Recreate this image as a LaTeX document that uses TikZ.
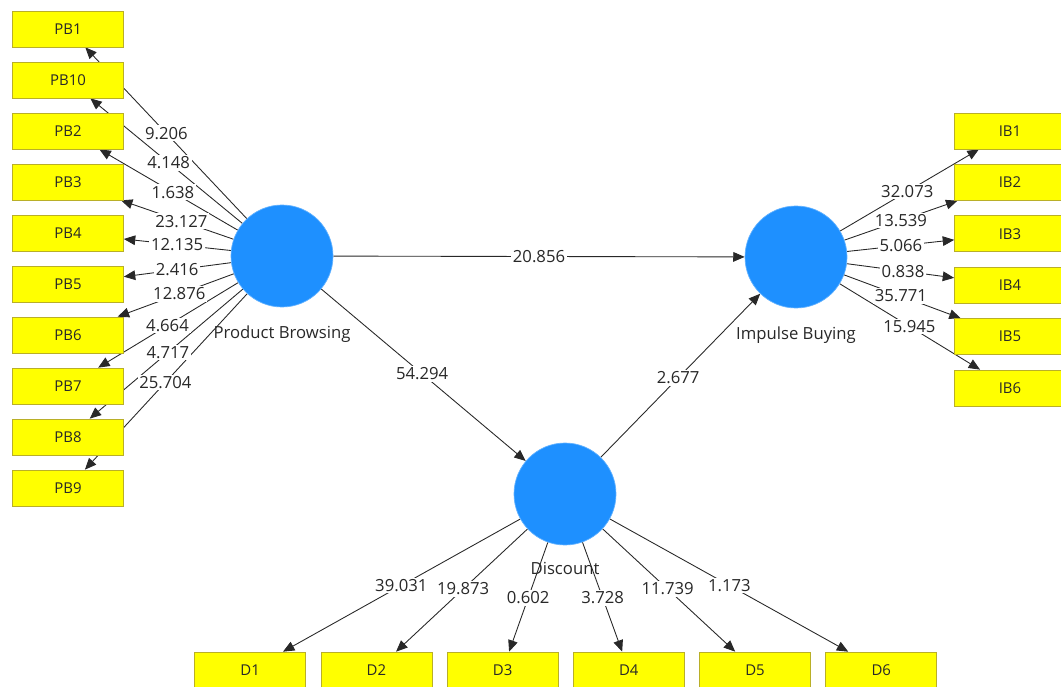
\documentclass[tikz,border=0pt]{standalone}
\usepackage{fontspec}
\setmainfont{Open Sans}
\usepackage{tikz}
\usetikzlibrary{arrows.meta,positioning,backgrounds}
\usepackage{xcolor}
\definecolor{plsyellow}{RGB}{255,255,0}
\definecolor{plsborder}{RGB}{185,175,40}
\definecolor{plsblue}{RGB}{30,144,255}
\definecolor{plsline}{RGB}{40,40,40}
\newcommand{\plsfont}{\fontsize{8.5}{10}\selectfont}
\newcommand{\coeffont}{\fontsize{9.5}{11}\selectfont}

\begin{document}
\begin{tikzpicture}[
    x=0.02cm, y=-0.02cm,
    indicator/.style={rectangle, draw=plsborder, fill=plsyellow,
        minimum width=2.22cm, minimum height=0.72cm, inner sep=0pt,
        font=\plsfont, text=plsline},
    latent/.style={circle, fill=plsblue, draw=plsblue!70!white,
        minimum size=2.04cm, inner sep=0pt},
    lvname/.style={font=\coeffont, inner sep=0pt, text=plsline},
    coef/.style={fill=white, inner sep=1pt, font=\coeffont, text=plsline},
    link/.style={draw=plsline, line width=0.5pt,
        -{Triangle[length=6.5pt,width=5.5pt]}}
]
\useasboundingbox (0,0) rectangle (1061,686);

% latent variables
\node[latent] (pb) at (282,256) {};
\node[latent] (ib) at (796,257) {};
\node[latent] (dc) at (565,494) {};
\node[lvname, below=0.36cm of pb] (pbname) {Product Browsing};
\node[lvname, below=0.36cm of ib] (ibname) {Impulse Buying};
\node[lvname, below=0.34cm of dc] (dcname) {Discount};

% indicators
\foreach \n [count=\k from 0] in {1,10,2,3,4,5,6,7,8,9}
    \node[indicator] (pb\n) at (68, {29+51*\k}) {PB\n};
\foreach \n in {1,...,6}
    \node[indicator] (ib\n) at (1010, {79.6+51.4*\n}) {IB\n};
\foreach \n in {1,...,6}
    \node[indicator] (d\n) at ({124+126.2*\n}, 670) {D\n};

\begin{scope}[on background layer]
\foreach \n in {1,10,2,3,4,5,6,7,8,9}
    \draw[link] (pb) -- (pb\n);
\foreach \n in {1,...,6}
    \draw[link] (ib) -- (ib\n);
\foreach \n in {1,...,6}
    \draw[link] (dc) -- (d\n);
\draw[link] (pb) -- (ib);
\draw[link] (pb) -- (dc);
\draw[link] (dc) -- (ib);
\end{scope}

% path coefficients
\foreach \n/\v/\t in {1/9.206/.54, 10/4.148/.53, 2/1.638/.51, 3/23.127/.47,
        4/12.135/.49, 5/2.416/.49, 6/12.876/.48, 7/4.664/.535, 8/4.717/.533,
        9/25.704/.545}
    \path (pb.center) -- (pb\n.center) node[coef, pos=\t] {\v};
\foreach \n/\v/\t in {1/32.073/.52, 2/13.539/.49, 3/5.066/.49, 4/0.838/.5,
        5/35.771/.49, 6/15.945/.53}
    \path (ib.center) -- (ib\n.center) node[coef, pos=\t] {\v};
\foreach \n/\v/\t in {1/39.031/.52, 2/19.873/.54, 3/0.602/.59, 4/3.728/.59,
        5/11.739/.54, 6/1.173/.52}
    \path (dc.center) -- (d\n.center) node[coef, pos=\t] {\v};
\path (pb.center) -- (ib.center) node[coef, pos=.5] {20.856};
\path (pb.center) -- (dc.center) node[coef, pos=.495] {54.294};
\path (dc.center) -- (ib.center) node[coef, pos=.49] {2.677};
\end{tikzpicture}
\end{document}
